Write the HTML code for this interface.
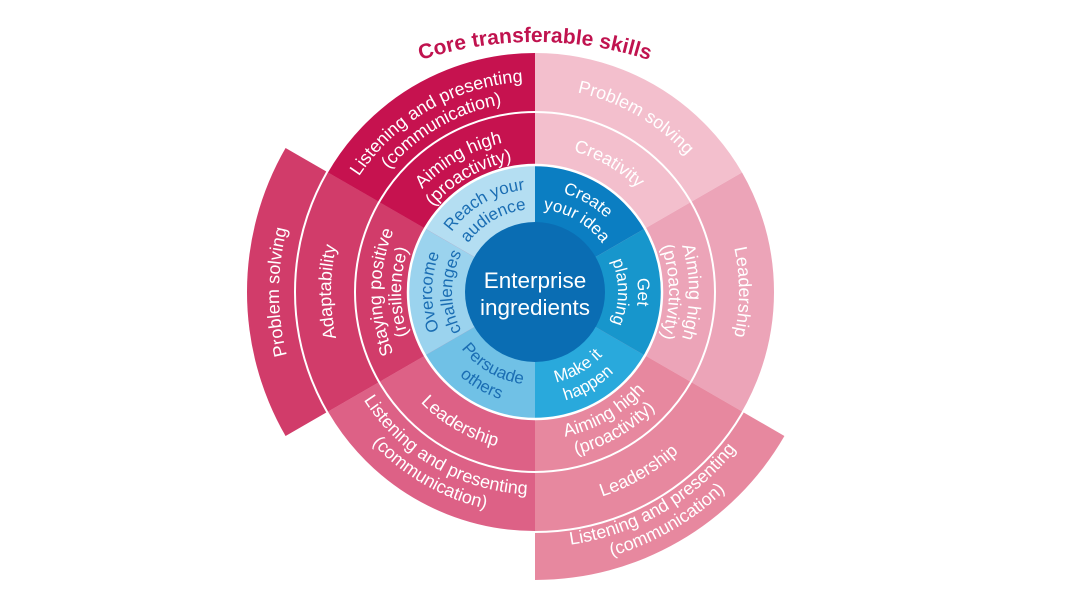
<!DOCTYPE html>
<html>
<head>
<meta charset="utf-8">
<style>
  html, body { margin: 0; padding: 0; background: #ffffff; }
  svg { display: block; }
  text { font-family: "Liberation Sans", Arial, sans-serif; }
  .w { fill: #ffffff; font-size: 18px; }
  .bw { fill: #ffffff; font-size: 17px; }
  .bb { fill: #1a6db3; font-size: 17px; }
</style>
</head>
<body>
<svg width="1070" height="595" viewBox="0 0 1070 595" xmlns="http://www.w3.org/2000/svg">
  <defs>
    <!-- blue ring paths -->
    <path id="b330a" d="M445.8,343.5 A103,103 0 0 1 624.2,240.5"/>
    <path id="b330b" d="M463.12,333.5 A83,83 0 0 1 606.88,250.5"/>
    <path id="b30a" d="M445.8,240.5 A103,103 0 0 1 624.2,343.5"/>
    <path id="b30b" d="M463.12,250.5 A83,83 0 0 1 606.88,333.5"/>
    <path id="b90a" d="M535,189 A103,103 0 0 1 535,395"/>
    <path id="b90b" d="M535,209 A83,83 0 0 1 535,375"/>
    <path id="b270a" d="M535,395 A103,103 0 0 1 535,189"/>
    <path id="b270b" d="M535,375 A83,83 0 0 1 535,209"/>
    <path id="b150a" d="M454.46,338.5 A93,93 0 0 0 615.54,245.5"/>
    <path id="b150b" d="M437.14,348.5 A113,113 0 0 0 632.86,235.5"/>
    <path id="b210a" d="M454.46,245.5 A93,93 0 0 0 615.54,338.5"/>
    <path id="b210b" d="M437.14,235.5 A113,113 0 0 0 632.86,348.5"/>
    <!-- pink ring 1 -->
    <path id="p1_330a" d="M401.64,369 A154,154 0 0 1 668.36,215"/>
    <path id="p1_330b" d="M418.96,359 A134,134 0 0 1 651.04,225"/>
    <path id="p1_30" d="M407.7,218.5 A147,147 0 0 1 662.3,365.5"/>
    <path id="p1_90a" d="M535,138 A154,154 0 0 1 535,446"/>
    <path id="p1_90b" d="M535,158 A134,134 0 0 1 535,426"/>
    <path id="p1_150a" d="M405.97,366.5 A149,149 0 0 0 664.03,217.5"/>
    <path id="p1_150b" d="M388.65,376.5 A169,169 0 0 0 681.35,207.5"/>
    <path id="p1_210" d="M396.44,212 A160,160 0 0 0 673.56,372"/>
    <path id="p1_270a" d="M535,446 A154,154 0 0 1 535,138"/>
    <path id="p1_270b" d="M535,426 A134,134 0 0 1 535,158"/>
    <!-- pink ring 2 -->
    <path id="p2_330a" d="M351.41,398 A212,212 0 0 1 718.59,186"/>
    <path id="p2_330b" d="M368.73,388 A192,192 0 0 1 701.27,196"/>
    <path id="p2_30" d="M358.33,190 A204,204 0 0 1 711.67,394"/>
    <path id="p2_90" d="M535,88 A204,204 0 0 1 535,496"/>
    <path id="p2_150" d="M347.94,400 A216,216 0 0 0 722.06,184"/>
    <path id="p2_210a" d="M358.34,190 A204,204 0 0 0 711.66,394"/>
    <path id="p2_210b" d="M341.02,180 A224,224 0 0 0 728.98,404"/>
    <path id="p2_270" d="M535,496 A204,204 0 0 1 535,88"/>
    <!-- ring 3 -->
    <path id="p3_270" d="M535,548 A256,256 0 0 1 535,36"/>
    <path id="p3_150a" d="M312.44,420.5 A257,257 0 0 0 757.56,163.5"/>
    <path id="p3_150b" d="M295.12,430.5 A277,277 0 0 0 774.88,153.5"/>
    <!-- title -->
    <path id="title" d="M165,412 A370,370 0 0 1 905,412"/>
  </defs>

  <!-- outer ring 3 segments -->
  <path d="M535,292 L285.58,436 A288,288 0 0 1 285.58,148 Z" fill="#d13c6a"/>
  <path d="M535,292 L784.42,436 A288,288 0 0 1 535,580 Z" fill="#e7889f"/>

  <!-- ring 1+2 segments -->
  <path d="M535,292 L535,52 A240,240 0 0 1 742.85,172 Z" fill="#f3bfcd"/>
  <path d="M535,292 L742.85,172 A240,240 0 0 1 742.85,412 Z" fill="#eca4b8"/>
  <path d="M535,292 L742.85,412 A240,240 0 0 1 535,532 Z" fill="#e7889f"/>
  <path d="M535,292 L535,532 A240,240 0 0 1 327.15,412 Z" fill="#dd6186"/>
  <path d="M535,292 L327.15,412 A240,240 0 0 1 327.15,172 Z" fill="#d13c6a"/>
  <path d="M535,292 L327.15,172 A240,240 0 0 1 535,52 Z" fill="#c6124f"/>

  <circle cx="535" cy="292" r="240" fill="none" stroke="#ffffff" stroke-width="2"/>
  <circle cx="535" cy="292" r="180" fill="none" stroke="#ffffff" stroke-width="2"/>

  <!-- blue ring -->
  <path d="M535,292 L535,165 A127,127 0 0 1 644.98,228.5 Z" fill="#0b7ec2"/>
  <path d="M535,292 L644.98,228.5 A127,127 0 0 1 644.98,355.5 Z" fill="#1796cc"/>
  <path d="M535,292 L644.98,355.5 A127,127 0 0 1 535,419 Z" fill="#29a9dc"/>
  <path d="M535,292 L535,419 A127,127 0 0 1 425.02,355.5 Z" fill="#70c1e6"/>
  <path d="M535,292 L425.02,355.5 A127,127 0 0 1 425.02,228.5 Z" fill="#9bd3ee"/>
  <path d="M535,292 L425.02,228.5 A127,127 0 0 1 535,165 Z" fill="#b4def2"/>
  <circle cx="535" cy="292" r="127" fill="none" stroke="#ffffff" stroke-width="2.5"/>

  <!-- center -->
  <circle cx="535" cy="292" r="70" fill="#0a6db3"/>
  <text x="535" y="288" text-anchor="middle" fill="#ffffff" font-size="22.5">Enterprise</text>
  <text x="535" y="315" text-anchor="middle" fill="#ffffff" font-size="22.5">ingredients</text>

  <!-- blue ring labels -->
  <text class="bb" text-anchor="middle"><textPath href="#b330a" startOffset="50%">Reach your</textPath></text>
  <text class="bb" text-anchor="middle"><textPath href="#b330b" startOffset="50%">audience</textPath></text>
  <text class="bw" text-anchor="middle"><textPath href="#b30a" startOffset="50%">Create</textPath></text>
  <text class="bw" text-anchor="middle"><textPath href="#b30b" startOffset="50%">your idea</textPath></text>
  <text class="bw" text-anchor="middle"><textPath href="#b90a" startOffset="50%">Get</textPath></text>
  <text class="bw" text-anchor="middle"><textPath href="#b90b" startOffset="50%">planning</textPath></text>
  <text class="bw" text-anchor="middle"><textPath href="#b150a" startOffset="50%">Make it</textPath></text>
  <text class="bw" text-anchor="middle"><textPath href="#b150b" startOffset="50%">happen</textPath></text>
  <text class="bb" text-anchor="middle"><textPath href="#b210a" startOffset="50%">Persuade</textPath></text>
  <text class="bb" text-anchor="middle"><textPath href="#b210b" startOffset="50%">others</textPath></text>
  <text class="bb" text-anchor="middle"><textPath href="#b270a" startOffset="50%">Overcome</textPath></text>
  <text class="bb" text-anchor="middle"><textPath href="#b270b" startOffset="50%">challenges</textPath></text>

  <!-- ring 1 labels -->
  <text class="w" text-anchor="middle"><textPath href="#p1_330a" startOffset="50%">Aiming high</textPath></text>
  <text class="w" text-anchor="middle"><textPath href="#p1_330b" startOffset="50%">(proactivity)</textPath></text>
  <text class="w" text-anchor="middle"><textPath href="#p1_30" startOffset="50%">Creativity</textPath></text>
  <text class="w" text-anchor="middle"><textPath href="#p1_90a" startOffset="50%">Aiming high</textPath></text>
  <text class="w" text-anchor="middle"><textPath href="#p1_90b" startOffset="50%">(proactivity)</textPath></text>
  <text class="w" text-anchor="middle"><textPath href="#p1_150a" startOffset="50%">Aiming high</textPath></text>
  <text class="w" text-anchor="middle"><textPath href="#p1_150b" startOffset="50%">(proactivity)</textPath></text>
  <text class="w" text-anchor="middle"><textPath href="#p1_210" startOffset="50%">Leadership</textPath></text>
  <text class="w" text-anchor="middle"><textPath href="#p1_270a" startOffset="50%">Staying positive</textPath></text>
  <text class="w" text-anchor="middle"><textPath href="#p1_270b" startOffset="50%">(resilience)</textPath></text>

  <!-- ring 2 labels -->
  <text class="w" text-anchor="middle"><textPath href="#p2_330a" startOffset="50%">Listening and presenting</textPath></text>
  <text class="w" text-anchor="middle"><textPath href="#p2_330b" startOffset="50%">(communication)</textPath></text>
  <text class="w" text-anchor="middle"><textPath href="#p2_30" startOffset="50%">Problem solving</textPath></text>
  <text class="w" text-anchor="middle"><textPath href="#p2_90" startOffset="50%">Leadership</textPath></text>
  <text class="w" text-anchor="middle"><textPath href="#p2_150" startOffset="50%">Leadership</textPath></text>
  <text class="w" text-anchor="middle"><textPath href="#p2_210a" startOffset="50%">Listening and presenting</textPath></text>
  <text class="w" text-anchor="middle"><textPath href="#p2_210b" startOffset="50%">(communication)</textPath></text>
  <text class="w" text-anchor="middle"><textPath href="#p2_270" startOffset="50%">Adaptability</textPath></text>

  <!-- ring 3 labels -->
  <text class="w" text-anchor="middle"><textPath href="#p3_270" startOffset="50%">Problem solving</textPath></text>
  <text class="w" text-anchor="middle"><textPath href="#p3_150a" startOffset="50%">Listening and presenting</textPath></text>
  <text class="w" text-anchor="middle"><textPath href="#p3_150b" startOffset="50%">(communication)</textPath></text>

  <!-- title -->
  <text fill="#c0134f" font-size="21" font-weight="bold" text-anchor="middle"><textPath href="#title" startOffset="50%">Core transferable skills</textPath></text>
</svg>
</body>
</html>
